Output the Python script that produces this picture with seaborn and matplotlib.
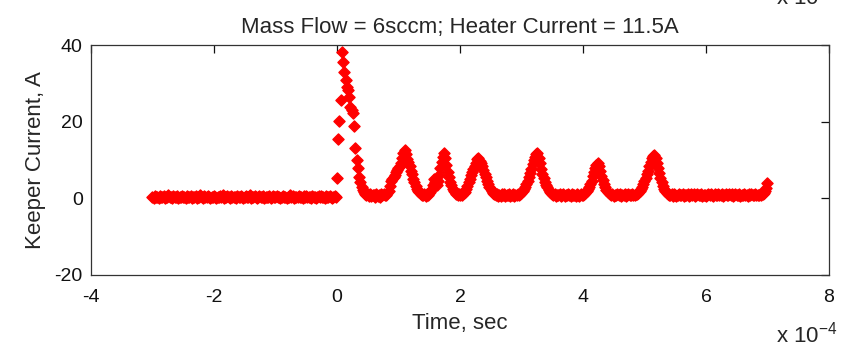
import numpy as np
import pandas as pd
import matplotlib
matplotlib.use("Agg")
import matplotlib.pyplot as plt
import seaborn as sns

# Keeper current [A], sampled every 0.02e-4 s starting at t = -3e-4 s
pre_trigger_current = [
    0.4, 0.2, 0.6, 0.3, 0.5, 0.1, 0.7, 0.4, 0.3, 0.6,
    0.2, 0.5, 0.4, 0.8, 0.3, 0.5, 0.2, 0.6, 0.4, 0.3,
    0.6, 0.1, 0.5, 0.4, 0.7, 0.3, 0.5, 0.2, 0.6, 0.4,
    0.3, 0.7, 0.2, 0.5, 0.4, 0.6, 0.1, 0.5, 0.3, 0.8,
    0.4, 0.2, 0.6, 0.5, 0.3, 0.7, 0.4, 0.2, 0.5, 0.3,
    0.6, 0.4, 0.1, 0.5, 0.3, 0.6, 0.4, 0.8, 0.2, 0.5,
    0.3, 0.6, 0.4, 0.2, 0.7, 0.3, 0.5, 0.4, 0.1, 0.6,
    0.5, 0.3, 0.7, 0.4, 0.2, 0.5, 0.6, 0.3, 0.4, 0.8,
    0.2, 0.5, 0.3, 0.6, 0.4, 0.1, 0.5, 0.7, 0.3, 0.4,
    0.6, 0.2, 0.4, 0.5, 0.3, 0.7, 0.2, 0.5, 0.6, 0.3,
    0.4, 0.7, 0.3, 0.5, 0.1, 0.4, 0.6, 0.3, 0.5, 0.2,
    0.5, 0.4, 0.8, 0.3, 0.6, 0.2, 0.4, 0.5, 0.3, 0.7,
    0.3, 0.5, 0.2, 0.6, 0.4, 0.7, 0.3, 0.5, 0.4, 0.2,
    0.6, 0.3, 0.5, 0.1, 0.4, 0.6, 0.3, 0.7, 0.4, 0.5,
    0.2, 0.6, 0.4, 0.3, 0.7, 0.5, 0.2, 0.4, 0.6, 0.5,
]
spike_current = [
    5.4, 15.5, 20.3, 25.7, 38.4, 35.8, 33.1, 31.0, 29.2, 28.4,
    26.6, 24.0, 23.1, 22.3, 19.0, 13.1, 10.0, 8.0, 5.6, 4.2,
]
oscillation_current = [
    3.0, 2.2, 1.6, 1.2, 0.9, 1.3, 0.7, 1.1, 0.6, 1.0,
    0.8, 0.5, 1.2, 0.7, 0.9, 0.4, 1.1, 0.8, 1.3, 0.9,
    1.0, 1.4, 2.0, 3.2, 4.5, 5.0, 5.6, 6.2, 6.8, 7.5,
    7.9, 8.6, 9.4, 10.5, 12.0, 12.7, 11.6, 10.4, 9.5, 8.4,
    7.2, 6.3, 5.1, 4.2, 3.3, 2.6, 2.0, 1.6, 1.2, 1.0,
    0.8, 1.2, 0.7, 1.1, 0.9, 1.4, 1.8, 2.6, 3.6, 5.0,
    4.4, 3.6, 4.6, 6.2, 8.0, 9.6, 10.8, 11.8, 10.6, 8.8,
    7.0, 5.6, 4.4, 3.4, 2.6, 2.0, 1.6, 1.2, 0.9, 1.3,
    0.8, 1.1, 0.9, 1.4, 1.8, 2.5, 3.3, 4.2, 5.2, 6.1,
    7.0, 7.8, 8.6, 9.4, 10.2, 10.6, 9.9, 9.2, 8.4, 7.5,
    6.5, 5.6, 4.6, 3.8, 3.0, 2.4, 1.9, 1.5, 1.1, 0.9,
    1.2, 0.7, 1.0, 0.6, 1.1, 0.8, 1.3, 0.7, 1.0, 0.8,
    1.1, 0.6, 0.9, 1.2, 0.7, 1.0, 0.8, 1.3, 1.0, 1.2,
    1.5, 1.9, 2.4, 3.0, 3.8, 4.6, 5.6, 6.6, 7.8, 9.0,
    10.0, 10.8, 11.6, 11.8, 10.6, 9.2, 7.8, 6.5, 5.4, 4.4,
    3.6, 2.9, 2.3, 1.8, 1.4, 1.1, 0.9, 1.2, 0.7, 1.0,
    0.8, 1.1, 0.6, 0.9, 1.2, 0.7, 1.0, 0.8, 1.3, 0.9,
    0.7, 1.1, 0.8, 1.0, 0.6, 1.2, 0.9, 0.7, 1.1, 0.8,
    1.0, 1.2, 1.5, 1.9, 2.4, 3.0, 3.8, 4.7, 5.8, 7.0,
    8.0, 8.8, 9.2, 8.4, 7.2, 6.0, 4.9, 3.9, 3.0, 2.3,
    1.8, 1.4, 1.1, 0.8, 1.2, 0.7, 1.0, 0.9, 1.3, 0.8,
    1.1, 0.7, 1.0, 0.8, 1.2, 0.6, 0.9, 1.1, 0.8, 1.0,
    1.2, 0.9, 1.0, 1.3, 1.1, 1.5, 1.9, 2.4, 3.0, 3.7,
    4.5, 5.4, 6.3, 7.3, 8.4, 9.5, 10.6, 11.2, 11.4, 10.6,
    9.4, 8.0, 6.6, 5.3, 4.2, 3.2, 2.5, 1.9, 1.5, 1.2,
]
tail_current = [
    1.0, 0.8, 1.2, 0.7, 1.1, 0.9, 0.6, 1.0, 1.3, 0.8,
    0.9, 1.2, 0.7, 1.0, 0.8, 1.1, 0.6, 0.9, 1.2, 0.8,
    1.1, 0.7, 1.0, 1.3, 0.8, 0.9, 1.1, 0.6, 1.0, 0.8,
    0.7, 1.0, 1.2, 0.8, 1.1, 0.9, 0.7, 1.2, 0.8, 1.0,
    1.2, 0.8, 0.9, 1.1, 0.6, 1.0, 1.3, 0.8, 0.9, 1.1,
    0.8, 1.1, 0.7, 1.0, 1.2, 0.9, 0.8, 1.1, 0.7, 1.0,
    0.9, 1.2, 0.8, 1.0, 0.7, 1.1, 0.9, 1.3, 0.8, 1.0,
    1.1, 0.8, 1.0, 0.9, 1.2, 0.8, 1.1, 1.4, 2.0, 2.8,
    4.0,
]

keeper_current = pre_trigger_current + spike_current + oscillation_current + tail_current
t_start = -3.0   # x 1e-4 s
t_step = 0.02    # x 1e-4 s
time_e4 = np.round(t_start + t_step * np.arange(len(keeper_current)), 2)

df = pd.DataFrame({"time": time_e4, "current": keeper_current})

sns.set_style("white")
plt.rcParams['font.family'] = ['Liberation Sans', 'DejaVu Sans']
plt.rcParams['mathtext.default'] = 'regular'
plt.rcParams['axes.unicode_minus'] = False

fig = plt.figure(figsize=(8.47, 3.48), dpi=100)
ax = fig.add_axes([0.1074, 0.2098, 0.8713, 0.6595])

sns.scatterplot(data=df, x="time", y="current", ax=ax, marker="D",
                color="#ff0000", edgecolor="#ff0000", s=32, linewidth=1.0)

ax.set_xlim(-4, 8)
ax.set_ylim(-20, 40)
ax.set_xticks([-4, -2, 0, 2, 4, 6, 8])
ax.set_yticks([-20, 0, 20, 40])
ax.tick_params(direction='in', length=6, width=0.9, top=True, right=True,
               labelsize=14, colors='#111111')
ax.tick_params(axis='x', pad=10)
ax.tick_params(axis='y', pad=6)
for side in ax.spines.values():
    side.set_color('#333333')
    side.set_linewidth(0.9)

ax.set_title("Mass Flow = 6sccm; Heater Current = 11.5A", fontsize=16, pad=9)
ax.set_xlabel("Time, sec", fontsize=16, labelpad=5)
ax.set_ylabel("Keeper Current, A", fontsize=16, labelpad=6)

# MATLAB-style exponent labels (the top one belongs to a plot above, cut off)
fig.text(776 / 847, 1 - 343 / 348, r"x 10$^{-4}$", fontsize=16, ha='left', va='baseline')
fig.text(776 / 847, 1 - 5 / 348, r"x 10$^{-4}$", fontsize=16, ha='left', va='baseline')

fig.savefig("out.png", dpi=100, facecolor="white")
